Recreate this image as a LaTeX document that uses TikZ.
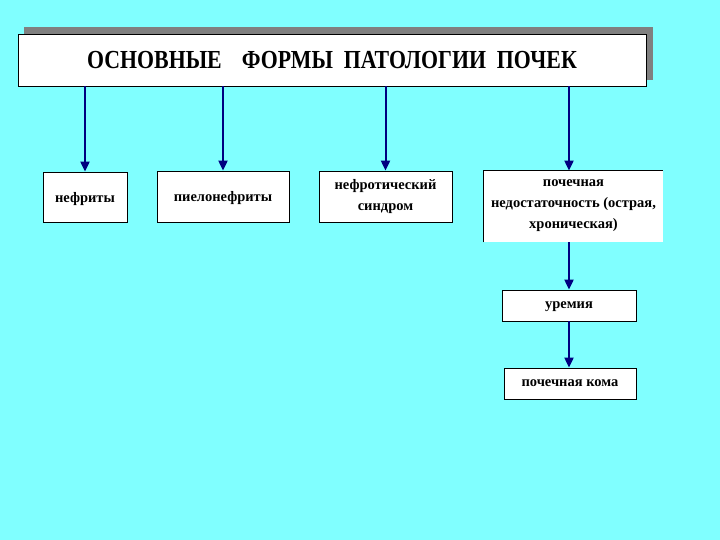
\documentclass[tikz,border=0pt]{standalone}
\usepackage{fontspec}
\setmainfont{Liberation Serif}
\usetikzlibrary{arrows.meta}
\definecolor{bgcyan}{RGB}{128,255,255}
\definecolor{arrowblue}{RGB}{0,0,128}
\definecolor{shadowgray}{RGB}{128,128,128}
\tikzset{
	formbox/.style={
			draw=black, fill=white, line width=0.8pt, align=center, inner sep=0pt,
			font=\bfseries\fontsize{14.5}{21}\selectfont
		},
	down/.style={draw=arrowblue, line width=2pt, -{Triangle[length=10pt,width=9pt]}}
}

\begin{document}
\begin{tikzpicture}[x=1pt,y=-1pt]
			\fill[bgcyan] (0,0) rectangle (720,540);
			\useasboundingbox (0,0) rectangle (720,540);
			\fill[shadowgray] (24,27) rectangle (653,80);
			\node[formbox, minimum width=628pt, minimum height=52pt, font=\bfseries\fontsize{26}{28}\selectfont] (title) at (332,60)
				{\raisebox{-4pt}{\scalebox{0.84}[1]{ОСНОВНЫЕ\hspace{24pt}ФОРМЫ\hspace{13pt}ПАТОЛОГИИ\hspace{13pt}ПОЧЕК}}};
			\node[formbox, minimum width=84pt, minimum height=50pt, text depth=0pt] (nefr) at (85,197) {нефриты};
			\node[formbox, minimum width=132pt, minimum height=51pt, text depth=0pt] (pielo) at (223,196.5) {пиелонефриты};
			\node[formbox, minimum width=133pt, minimum height=51pt] (nefrot) at (385.5,196.5) {нефротический\\синдром};
			\node[formbox, draw=none, minimum width=179pt, minimum height=71pt] (ned) at (573.5,206.5) {\\[-16pt]почечная\\недостаточность (острая,\\хроническая)};
			\draw[line width=0.8pt] (ned.south west) -- (ned.north west) -- (ned.north east);
			\node[formbox, minimum width=134pt, minimum height=31pt, text depth=0pt] (urem) at (569,305.5) {уремия};
			\node[formbox, minimum width=132pt, minimum height=31pt] (koma) at (570,383.5) {почечная кома};
			% arrows
			\foreach \b in {nefr,pielo,nefrot}
				\draw[down] (title.south -| \b.north) -- (\b.north);
			\draw[down] (title.south -| urem.north) -- (ned.north -| urem.north);
			\draw[down] (ned.south -| urem.north) -- (urem.north);
			\draw[down] (urem.south) -- (urem.south |- koma.north);
		\end{tikzpicture}
\end{document}
